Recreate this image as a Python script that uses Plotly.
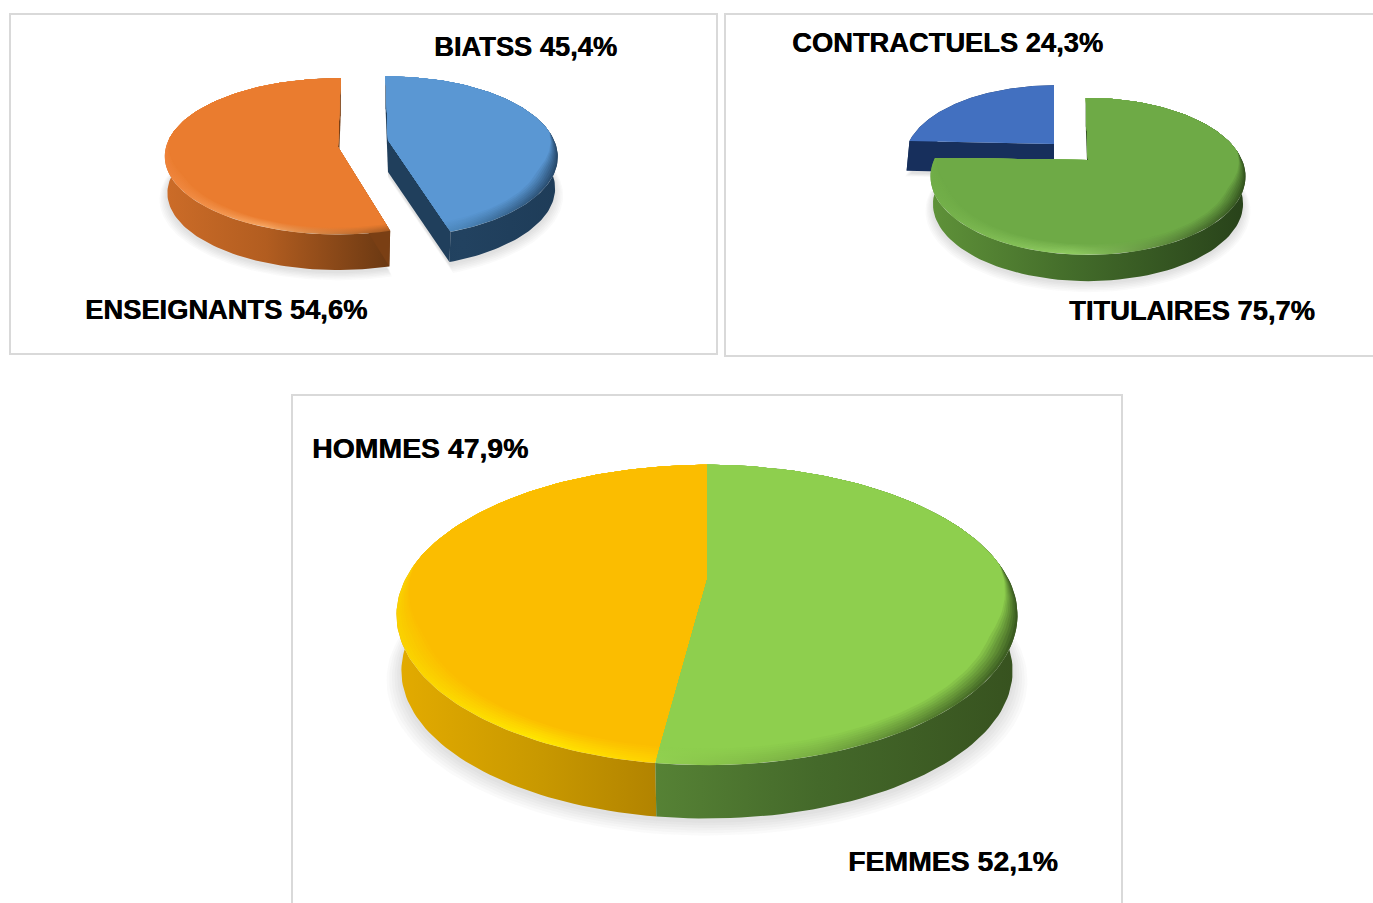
import numpy as np
import plotly.graph_objects as go

# shares
staff_names = ['ENSEIGNANTS', 'BIATSS']
staff_values = [54.6, 45.4]
status_names = ['CONTRACTUELS', 'TITULAIRES']
status_values = [24.3, 75.7]
gender_names = ['HOMMES', 'FEMMES']
gender_values = [47.9, 52.1]

W, H = 1373, 903
FONT = 'Liberation Sans'
BORDER = '#D9D9D9'

# perspective ellipse of each slice, in page pixels
SLICES = [
    dict(value=staff_values[0], sign=-1, turn=1, ax=338, ay=147, rx=172, ry=77, k=0.12, t=37, bev=0.07, low=0.985,
         cuts=True, face='#EA7C2F', wall=['#CC6C28', '#B25D20', '#6A3812'], cut='#7A3F14',
         edge=['#EE8238', '#F7A662', '#A85A20']),
    dict(value=staff_values[1], sign=1, turn=-1, ax=388, ay=140, rx=166, ry=77, k=0.21, t=32, bev=0.09, low=0.985,
         cuts=True, face='#5A97D3', wall=['#1F3F5C', '#224260', '#1E3C58'], cut='#203F5C',
         edge=['#5B9BD5', '#4A84B8', '#27496B']),
    dict(value=status_values[0], sign=-1, turn=0, ax=1054, ay=144, rx=146, ry=71, k=0.21, t=30, bev=0.0, low=1.02,
         cuts=True, face='#4270C0', wall=['#172F5C', '#172F5C', '#172F5C'], cut='#172F5C',
         edge=['#4472C4', '#4472C4', '#4472C4']),
    dict(value=status_values[1], sign=1, turn=-1, ax=1088, ay=160, rx=154, ry=75, k=0.21, t=28, bev=0.09, low=0.985,
         cuts=True, face='#6EAA46', wall=['#5F9239', '#436C2A', '#28421A'], cut='#2F4F1C',
         edge=['#70AD47', '#90CC62', '#33531E']),
    dict(value=gender_values[0], sign=-1, turn=0, ax=707, ay=580, rx=302, ry=142, k=0.233, t=57, bev=0.07, low=0.985,
         cuts=False, face='#FBBD00', wall=['#E3AB00', '#C99900', '#A87A00'], cut='#A87A00',
         edge=['#FAD000', '#FFE600', '#FFC800']),
    dict(value=gender_values[1], sign=1, turn=0, ax=707, ay=580, rx=302, ry=142, k=0.233, t=57, bev=0.07, low=0.985,
         cuts=False, face='#8ECF4E', wall=['#568235', '#44692A', '#37521F'], cut='#37521F',
         edge=['#92D050', '#78AE42', '#3A5A20']),
]

LABELS = [
    (staff_names[0], staff_values[0], 85, 309, 27.3),
    (staff_names[1], staff_values[1], 434, 46, 27.3),
    (status_names[0], status_values[0], 792, 42, 27.3),
    (status_names[1], status_values[1], 1069, 310, 27.3),
    (gender_names[0], gender_values[0], 312, 448, 28.4),
    (gender_names[1], gender_values[1], 848, 861, 28.4),
]


def arc(s, radius=1.0, drop=0.0, bevel=0.0):
    """Rim of a slice: the sweep comes from its value, clockwise or not by sign."""
    sweep = s['value'] * 3.6 * s['sign']
    theta = np.radians(np.linspace(s['turn'], s['turn'] + sweep, 120))
    front = np.clip((0.12 - np.cos(theta)) / 0.5, 0, 1)
    r = radius * (1 - bevel * front)
    d = 1 + s['k'] * r * np.cos(theta)
    x = s['ax'] + s['rx'] * r * np.sin(theta) / d
    y = s['ay'] - s['ry'] * r * np.cos(theta) / d + drop
    return x, y


def scale(colors):
    return [[0, colors[0]], [0.45, colors[1]], [1, colors[2]]]


def mix(a, b, f):
    ca = [int(a[i:i + 2], 16) for i in (1, 3, 5)]
    cb = [int(b[i:i + 2], 16) for i in (1, 3, 5)]
    return '#%02X%02X%02X' % tuple(round(p + (q - p) * f) for p, q in zip(ca, cb))


def polygon(fig, x, y, color=None, gradient=None, name=''):
    extra = dict(fillcolor=color) if color else dict(
        fillgradient=dict(type='horizontal', colorscale=gradient))
    fig.add_trace(go.Scatter(x=list(x), y=list(y), mode='lines', fill='toself', name=name,
                             line=dict(width=0), hoverinfo='skip', showlegend=False, **extra))


def wedge(s, **kw):
    x, y = arc(s, **kw)
    drop = kw.get('drop', 0.0)
    return np.r_[s['ax'], x, s['ax']], np.r_[s['ay'] + drop, y, s['ay'] + drop]


def draw_shadow(fig, s):
    for step in range(6):
        x, y = wedge(s, radius=1.03 - step * 0.008, drop=s['t'] * 1.02 + 5 - step * 0.6)
        polygon(fig, x, y, color='rgba(90,90,90,0.03)')


def draw_slice(fig, s):
    name = f"{s['value']}"
    # outer wall
    x_top, y_top = arc(s)
    x_low, y_low = arc(s, radius=s['low'], drop=s['t'])
    polygon(fig, np.r_[x_top, x_low[::-1]], np.r_[y_top, y_low[::-1]], gradient=scale(s['wall']), name=name)
    # the two cut faces
    if s['cuts']:
        for i in (0, -1):
            polygon(fig,
                    [s['ax'], x_top[i], x_low[i], s['ax'], s['ax']],
                    [s['ay'], y_top[i], y_low[i], s['ay'] + s['t'], s['ay']],
                    color=s['cut'], name=name)
    # top face, with a soft bevel built from nested wedges
    layers = 8 if s['bev'] else 0
    for n in range(layers):
        x, y = wedge(s, bevel=s['bev'] * n / layers)
        f = n / layers
        polygon(fig, x, y, gradient=scale([mix(c, s['face'], f) for c in s['edge']]), name=name)
    x, y = wedge(s, bevel=s['bev'])
    polygon(fig, x, y, color=s['face'], name=name)


fig = go.Figure()
for s in SLICES:
    draw_shadow(fig, s)
for s in SLICES:
    draw_slice(fig, s)

for x0, y0, x1, y1 in [(10, 14, 717, 354), (725, 14, 1400, 356), (292, 395, 1122, 930)]:
    fig.add_shape(type='rect', x0=x0, y0=y0, x1=x1, y1=y1, layer='below',
                  line=dict(color=BORDER, width=2))

for name, value, x, y, size in LABELS:
    text = f"{name} {str(value).replace('.', ',')}%"
    fig.add_annotation(x=x, y=y, text=f'<b>{text}</b>', showarrow=False, xanchor='left', yanchor='middle',
                       xshift=-2, font=dict(family=FONT, size=size, color='#000000', shadow='0.5px 0 0 #000000'))

fig.update_xaxes(range=[0, W], visible=False, fixedrange=True)
fig.update_yaxes(range=[H, 0], visible=False, fixedrange=True)
fig.update_layout(width=W, height=H, margin=dict(l=0, r=0, t=0, b=0),
                  paper_bgcolor='white', plot_bgcolor='white', showlegend=False)

fig.write_html('out.html', config=dict(displayModeBar=False),
               post_script="document.body.style.margin='0';document.body.style.overflow='hidden';")
